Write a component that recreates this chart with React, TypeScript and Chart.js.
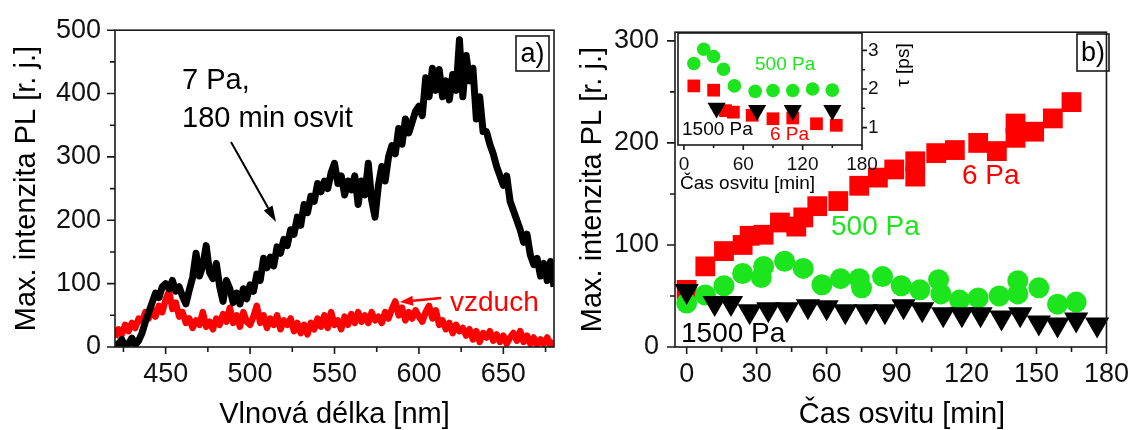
import React, { useEffect, useRef } from 'react';
import { Chart, registerables } from 'chart.js';

Chart.register(...registerables);

const FONT = '"Liberation Sans", Arial, Helvetica, sans-serif';
const AXIS = '#1a1a1a';
const RED = '#ff0000';
const GREEN = '#1de51d';
const BLACK = '#000000';

// ---------------- Panel a) : PL spectra ----------------
const wavelengthsNm = [
  420, 422, 424, 426, 428, 430, 432, 434, 436, 438,
  440, 442, 444, 446, 448, 450, 452, 454, 456, 458,
  460, 462, 464, 466, 468, 470, 472, 474, 476, 478,
  480, 482, 484, 486, 488, 490, 492, 494, 496, 498,
  500, 502, 504, 506, 508, 510, 512, 514, 516, 518,
  520, 522, 524, 526, 528, 530, 532, 534, 536, 538,
  540, 542, 544, 546, 548, 550, 552, 554, 556, 558,
  560, 562, 564, 566, 568, 570, 572, 574, 576, 578,
  580, 582, 584, 586, 588, 590, 592, 594, 596, 598,
  600, 602, 604, 606, 608, 610, 612, 614, 616, 618,
  620, 622, 624, 626, 628, 630, 632, 634, 636, 638,
  640, 642, 644, 646, 648, 650, 652, 654, 656, 658,
  660, 662, 664, 666, 668, 670, 672, 674, 676, 678,
  680,
];
const intensity7Pa = [
  8, 2, 12, 0, 5, 14, 3, 10, 22, 40,
  55, 70, 85, 78, 95, 100, 92, 105, 88, 95,
  80, 68, 90, 110, 148, 112, 128, 160, 118, 108,
  132, 95, 72, 105, 92, 70, 85, 68, 92, 76,
  98, 88, 115, 105, 140, 125, 142, 128, 158, 148,
  170, 160, 185, 178, 205, 192, 225, 212, 238, 230,
  258, 245, 262, 250, 275, 290, 258, 270, 240, 262,
  248, 270, 225, 262, 240, 290, 232, 205, 255, 285,
  262, 300, 318, 305, 345, 320, 360, 338, 355, 372,
  380, 365, 425, 395, 440, 405, 438, 395, 420, 390,
  430, 405, 485, 395, 460, 420, 440, 360, 395, 340,
  340, 320, 305, 285, 270, 255, 270, 230, 215, 200,
  185, 165, 178, 145, 130, 140, 112, 132, 105, 135,
  95,
];
const intensityAir = [
  15, 28, 20, 35, 25, 38, 30, 45, 40, 55,
  45, 60, 48, 65, 55, 75, 88, 60, 70, 48,
  55, 38, 45, 30, 42, 35, 55, 32, 40, 28,
  45, 35, 52, 40, 62, 38, 50, 32, 55, 40,
  35, 48, 65, 38, 50, 30, 45, 35, 50, 28,
  42, 35, 45, 25, 38, 22, 35, 20, 38, 28,
  45, 32, 50, 30, 55, 35, 42, 28, 48, 35,
  52, 38, 55, 40, 50, 38, 55, 42, 48, 38,
  55, 45, 60, 72, 50, 62, 42, 55, 45, 58,
  48, 40, 55, 65, 45, 58, 35, 42, 28, 38,
  22, 35, 25, 30, 18, 28, 12, 25, 8, 22,
  15, 25, 10, 20, 8, 18, 5, 15, 22, 10,
  25, 8, 18, 5, 15, 3, 12, 5, 15, 2,
  10,
];
const xTicksA = [450, 500, 550, 600, 650];
const xMinorA = [425, 475, 525, 575, 625, 675];
const yTicksA = [0, 100, 200, 300, 400, 500];
const yMinorA = [50, 150, 250, 350, 450];

// ---------------- Panel b) : max PL vs exposure time ----------------
const time6Pa = [0, 8, 16, 24, 27, 33, 40, 47, 50, 56, 65, 74, 82, 89, 98, 98, 107, 115, 125, 133, 141, 141, 149, 157, 165];
const pl6Pa = [56, 79, 94, 100, 109, 110, 122, 118, 127, 138, 143, 158, 166, 174, 182, 167, 190, 193, 200, 192, 205, 219, 211, 224, 240];
const time500Pa = [0, 8, 16, 24, 32, 33, 42, 50, 58, 66, 74, 75, 84, 92, 100, 108, 109, 117, 125, 134, 142, 142, 151, 159, 167];
const pl500Pa = [43, 51, 60, 72, 68, 79, 84, 77, 61, 67, 67, 58, 69, 60, 56, 66, 52, 46, 48, 50, 65, 52, 58, 42, 44];
const time1500Pa = [0, 12, 19, 27, 35, 43, 52, 60, 68, 77, 85, 93, 101, 110, 118, 126, 135, 143, 151, 159, 167, 176];
const pl1500Pa = [55, 43, 43, 35, 37, 37, 40, 39, 35, 35, 35, 40, 37, 32, 32, 32, 29, 32, 24, 22, 27, 22];
const xTicksB = [0, 30, 60, 90, 120, 150, 180];
const xMinorB = [15, 45, 75, 105, 135, 165];
const yTicksB = [0, 100, 200, 300];
const yMinorB = [50, 150, 250];

// ---------------- Inset : lifetime tau ----------------
const insetTime500Pa = [10, 20, 30, 40, 51, 72, 90, 110, 130, 150];
const insetTau500Pa = [2.66, 3.03, 2.84, 2.51, 2.08, 1.94, 1.96, 1.96, 2.0, 1.97];
const insetTime6Pa = [10, 30, 42, 50, 69, 90, 110, 134, 154];
const insetTau6Pa = [2.08, 1.97, 1.44, 1.4, 1.32, 1.23, 1.25, 1.1, 1.06];
const insetTime1500Pa = [33, 74, 110, 150];
const insetTau1500Pa = [1.51, 1.45, 1.45, 1.45];
const xTicksInset = [0, 60, 120, 180];
const xMinorInset = [30, 90, 150];
const yTicksInset = [1, 2, 3];
const yMinorInset = [1.5, 2.5];

// ---------------- helpers ----------------
const pairs = (xs: number[], ys: number[]) => xs.map((x, i) => ({ x, y: ys[i] }));

function drawFrame(ctx: CanvasRenderingContext2D, a: any) {
  ctx.save();
  ctx.strokeStyle = AXIS;
  ctx.lineWidth = 1.6;
  ctx.strokeRect(a.left, a.top, a.right - a.left, a.bottom - a.top);
  ctx.restore();
}

function drawTickMarks(ctx: CanvasRenderingContext2D, scale: any, values: number[], len: number, side: string) {
  ctx.save();
  ctx.strokeStyle = AXIS;
  ctx.lineWidth = 1.6;
  ctx.beginPath();
  for (const v of values) {
    const p = scale.getPixelForValue(v);
    if (side === 'bottom') {
      ctx.moveTo(p, scale.top);
      ctx.lineTo(p, scale.top + len);
    } else if (side === 'left') {
      ctx.moveTo(scale.right, p);
      ctx.lineTo(scale.right - len, p);
    } else {
      ctx.moveTo(scale.left, p);
      ctx.lineTo(scale.left + len, p);
    }
  }
  ctx.stroke();
  ctx.restore();
}

function text(ctx: CanvasRenderingContext2D, s: string, x: number, y: number, size: number, color: string,
  align: CanvasTextAlign = 'left', baseline: CanvasTextBaseline = 'alphabetic', rot = 0) {
  ctx.save();
  ctx.font = `${size}px ${FONT}`;
  ctx.fillStyle = color;
  ctx.textAlign = align;
  ctx.textBaseline = baseline;
  ctx.translate(x, y);
  if (rot) ctx.rotate(rot);
  ctx.fillText(s, 0, 0);
  ctx.restore();
}

function arrow(ctx: CanvasRenderingContext2D, x1: number, y1: number, x2: number, y2: number,
  color: string, lw: number, headLen: number, headW: number) {
  const ang = Math.atan2(y2 - y1, x2 - x1);
  const c = Math.cos(ang), s = Math.sin(ang);
  const bx = x2 - headLen * c, by = y2 - headLen * s;
  ctx.save();
  ctx.strokeStyle = color;
  ctx.fillStyle = color;
  ctx.lineWidth = lw;
  ctx.beginPath();
  ctx.moveTo(x1, y1);
  ctx.lineTo(bx, by);
  ctx.stroke();
  ctx.beginPath();
  ctx.moveTo(x2, y2);
  ctx.lineTo(bx - (headW / 2) * s, by + (headW / 2) * c);
  ctx.lineTo(bx + (headW / 2) * s, by - (headW / 2) * c);
  ctx.closePath();
  ctx.fill();
  ctx.restore();
}

function boxLabel(ctx: CanvasRenderingContext2D, s: string, l: number, t: number, r: number, b: number) {
  ctx.save();
  ctx.strokeStyle = AXIS;
  ctx.lineWidth = 1.6;
  ctx.strokeRect(l, t, r - l, b - t);
  ctx.restore();
  text(ctx, s, (l + r) / 2, (t + b) / 2 + 1, 27, BLACK, 'center', 'middle');
}

const tickFont = (size: number) => ({ font: { family: FONT, size }, color: '#111', autoSkip: false, maxRotation: 0, minRotation: 0 });

const common = {
  animation: false as const,
  responsive: false,
  maintainAspectRatio: false,
  devicePixelRatio: 1,
  events: [] as any[],
  plugins: { legend: { display: false }, tooltip: { enabled: false }, title: { display: false } },
};

function axis(min: number, max: number, ticks: number[], extra: any) {
  return {
    type: 'linear',
    min,
    max,
    afterBuildTicks: (s: any) => { s.ticks = ticks.map((v) => ({ value: v })); },
    grid: { display: false, drawTicks: false },
    border: { display: false },
    title: { display: false },
    ...extra,
  };
}

// ---------------- plugins ----------------
const panelAPlugin = {
  id: 'panelA',
  afterDraw(chart: any) {
    const { ctx, chartArea: a, scales } = chart;
    drawFrame(ctx, a);
    drawTickMarks(ctx, scales.x, xTicksA, 7, 'bottom');
    drawTickMarks(ctx, scales.x, xMinorA, 5, 'bottom');
    drawTickMarks(ctx, scales.y, yTicksA, 8, 'left');
    drawTickMarks(ctx, scales.y, yMinorA, 5, 'left');
    text(ctx, 'Vlnová délka [nm]', (a.left + a.right) / 2, 423, 29, BLACK, 'center');
    text(ctx, 'Max. intenzita PL [r. j.]', 35, (a.top + a.bottom) / 2, 29, BLACK, 'center', 'alphabetic', -Math.PI / 2);
    text(ctx, '7 Pa,', 182, 89, 29, BLACK);
    text(ctx, '180 min osvit', 182, 127, 29, BLACK);
    arrow(ctx, 231, 142, 276, 222, BLACK, 2, 16, 10);
    text(ctx, 'vzduch', 450, 311, 28, RED);
    arrow(ctx, 441, 298, 400, 302, RED, 2.5, 13, 10);
    boxLabel(ctx, 'a)', 516, 36, 549, 71);
  },
};

const panelBPlugin = {
  id: 'panelB',
  afterDraw(chart: any) {
    const { ctx, chartArea: a, scales } = chart;
    drawFrame(ctx, a);
    drawTickMarks(ctx, scales.x, xTicksB, 7, 'bottom');
    drawTickMarks(ctx, scales.x, xMinorB, 5, 'bottom');
    drawTickMarks(ctx, scales.y, yTicksB, 8, 'left');
    drawTickMarks(ctx, scales.y, yMinorB, 5, 'left');
    text(ctx, 'Čas osvitu [min]', 902, 423, 29, BLACK, 'center');
    text(ctx, 'Max. intenzita PL [r. j.]', 601, (a.top + a.bottom) / 2, 29, BLACK, 'center', 'alphabetic', -Math.PI / 2);
    text(ctx, '6 Pa', 962, 184, 28, RED);
    text(ctx, '500 Pa', 831, 235, 28, GREEN);
    text(ctx, '1500 Pa', 681, 342, 28, BLACK);
    boxLabel(ctx, 'b)', 1077, 34, 1109, 71);
  },
};

const insetPlugin = {
  id: 'inset',
  afterDraw(chart: any) {
    const { ctx, chartArea: a, scales } = chart;
    drawFrame(ctx, a);
    drawTickMarks(ctx, scales.x, xTicksInset, 5, 'bottom');
    drawTickMarks(ctx, scales.x, xMinorInset, 3, 'bottom');
    drawTickMarks(ctx, scales.y, yTicksInset, 5, 'right');
    drawTickMarks(ctx, scales.y, yMinorInset, 3, 'right');
    text(ctx, 'Čas osvitu [min]', 680, 189, 19, BLACK, 'left');
    text(ctx, 'τ [ps]', 909, 65, 19, BLACK, 'center', 'alphabetic', -Math.PI / 2);
    text(ctx, '500 Pa', 755, 70, 19, GREEN);
    text(ctx, '1500 Pa', 682, 135, 19, BLACK);
    text(ctx, '6 Pa', 770, 140, 19, RED);
  },
};

// ---------------- configs ----------------
function configA(): any {
  return {
    type: 'line',
    data: {
      datasets: [
        { label: '7 Pa, 180 min osvit', data: pairs(wavelengthsNm, intensity7Pa), borderColor: BLACK, borderWidth: 7, pointRadius: 0, tension: 0, borderJoinStyle: 'round' },
        { label: 'vzduch', data: pairs(wavelengthsNm, intensityAir), borderColor: RED, borderWidth: 6.5, pointRadius: 0, tension: 0, borderJoinStyle: 'round' },
      ],
    },
    options: {
      ...common,
      layout: { padding: { left: 0, top: 30, right: 586, bottom: 0 } },
      scales: {
        x: axis(420, 680, xTicksA, { afterFit: (s: any) => { s.height = 83; }, ticks: { ...tickFont(27), padding: 11 } }),
        y: axis(0, 500, yTicksA, { afterFit: (s: any) => { s.width = 115; }, ticks: { ...tickFont(27), padding: 14 } }),
      },
    },
    plugins: [panelAPlugin],
  };
}

function configB(): any {
  return {
    type: 'scatter',
    data: {
      datasets: [
        { label: '1500 Pa', data: pairs(time1500Pa, pl1500Pa), pointStyle: 'triangle', pointRotation: 180, pointRadius: 14, pointBackgroundColor: BLACK, pointBorderColor: BLACK, pointBorderWidth: 0, clip: false },
        { label: '500 Pa', data: pairs(time500Pa, pl500Pa), pointStyle: 'circle', pointRadius: 10.5, pointBackgroundColor: GREEN, pointBorderColor: GREEN, pointBorderWidth: 0, clip: false },
        { label: '6 Pa', data: pairs(time6Pa, pl6Pa), pointStyle: 'rect', pointRadius: 14, pointBackgroundColor: RED, pointBorderColor: RED, pointBorderWidth: 0, clip: false },
      ],
    },
    options: {
      ...common,
      layout: { padding: { left: 600, top: 30, right: 26, bottom: 0 } },
      scales: {
        x: axis(-5, 180, xTicksB, { afterFit: (s: any) => { s.height = 83; }, ticks: { ...tickFont(27), padding: 11 } }),
        y: axis(0, 308.5, yTicksB, { afterFit: (s: any) => { s.width = 75; }, ticks: { ...tickFont(27), padding: 16 } }),
      },
    },
    plugins: [panelBPlugin],
  };
}

function configInset(): any {
  return {
    type: 'scatter',
    data: {
      datasets: [
        { label: '1500 Pa', data: pairs(insetTime1500Pa, insetTau1500Pa), pointStyle: 'triangle', pointRotation: 180, pointRadius: 10.5, pointBackgroundColor: BLACK, pointBorderColor: BLACK, pointBorderWidth: 0, clip: false },
        { label: '6 Pa', data: pairs(insetTime6Pa, insetTau6Pa), pointStyle: 'rect', pointRadius: 9, pointBackgroundColor: RED, pointBorderColor: RED, pointBorderWidth: 0, clip: false },
        { label: '500 Pa', data: pairs(insetTime500Pa, insetTau500Pa), pointStyle: 'circle', pointRadius: 6.8, pointBackgroundColor: GREEN, pointBorderColor: GREEN, pointBorderWidth: 0, clip: false },
      ],
    },
    options: {
      ...common,
      layout: { padding: { left: 678, top: 33, right: 238, bottom: 0 } },
      scales: {
        x: axis(-6, 180, xTicksInset, { afterFit: (s: any) => { s.height = 285; }, ticks: { ...tickFont(19), padding: 8 } }),
        y: axis(0.55, 3.45, yTicksInset, { position: 'right', afterFit: (s: any) => { s.width = 40; }, ticks: { ...tickFont(19), padding: 6 } }),
      },
    },
    plugins: [insetPlugin],
  };
}

export default function App() {
  const aRef = useRef<HTMLCanvasElement>(null);
  const bRef = useRef<HTMLCanvasElement>(null);
  const cRef = useRef<HTMLCanvasElement>(null);

  useEffect(() => {
    const charts = [
      new Chart(aRef.current as HTMLCanvasElement, configA()),
      new Chart(bRef.current as HTMLCanvasElement, configB()),
      new Chart(cRef.current as HTMLCanvasElement, configInset()),
    ];
    return () => charts.forEach((c) => c.destroy());
  }, []);

  const cs: React.CSSProperties = { position: 'absolute', left: 0, top: 0, width: 1140, height: 430 };
  return (
    <div style={{ position: 'fixed', left: 0, top: 0, width: 1140, height: 430, background: '#fff', overflow: 'hidden' }}>
      <canvas ref={aRef} width={1140} height={430} style={cs} />
      <canvas ref={bRef} width={1140} height={430} style={cs} />
      <canvas ref={cRef} width={1140} height={430} style={cs} />
    </div>
  );
}
